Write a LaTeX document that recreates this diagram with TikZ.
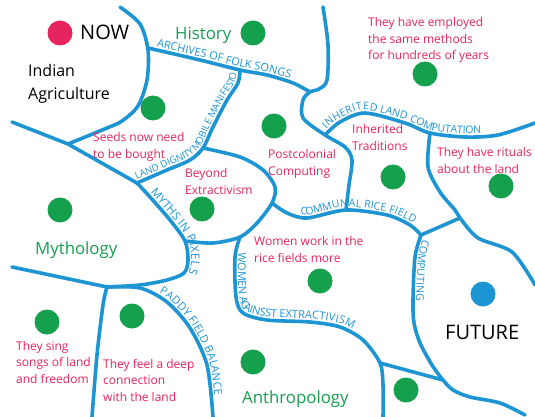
\documentclass[tikz,border=0pt]{standalone}
\usepackage{fontspec}
\setmainfont{Open Sans}
\usetikzlibrary{decorations.text}
\definecolor{lineblue}{HTML}{1E95D3}
\definecolor{dotgreen}{HTML}{15A04E}
\definecolor{notepink}{HTML}{E6245E}

\begin{document}
\begin{tikzpicture}[x=1pt,y=-1pt,
  fieldline/.style={draw=lineblue,line width=3.6pt,line cap=round,line join=round},
  roadname/.style n args={3}{postaction={decorate,decoration={text along path,
      text={|\fontsize{#3}{#3}\selectfont|#1},text color=lineblue,raise=3.2pt,text align={left indent=#2}}}},
  note/.style={anchor=base west,inner sep=0pt,align=left,text=notepink,font=\fontsize{12}{16.5}\selectfont},
  topic/.style={anchor=base west,inner sep=0pt,text=dotgreen,font=\fontsize{16.8}{20}\selectfont},
  bigword/.style={anchor=base west,inner sep=0pt,font=\fontsize{20}{24}\selectfont},
  placename/.style={anchor=base west,inner sep=0pt,align=left,font=\fontsize{16}{23}\selectfont}]
\useasboundingbox (0,0) rectangle (535,417);
\fill[white] (0,0) rectangle (535,417);
% junctions
\coordinate (jwest)  at (68,144);
\coordinate (jmyth)  at (137,183);
\coordinate (jarch)  at (148,48);
\coordinate (jland)  at (240,70);
\coordinate (jtop)   at (310,92);
\coordinate (jinh)   at (325,135);
\coordinate (jrit)   at (430,133);
\coordinate (jbey)   at (203,148);
\coordinate (jcom)   at (272,203);
\coordinate (jmid)   at (346,210);
\coordinate (jfut)   at (421,235);
\coordinate (jfork)  at (460,218);
\coordinate (jwom)   at (240,237);
\coordinate (jpix)   at (185,241);
\coordinate (jsouth) at (107,287);
\coordinate (janth)  at (380,363);
\coordinate (jend)   at (443,380);
% borders
\draw[fieldline] plot[smooth] coordinates {(120,7) (140,24) (148,50) (147,80) (138,106) (122,121) (107,128) (jwest)};
\draw[fieldline] (12,122) -- (jwest) -- (jmyth);
\draw[fieldline] plot[smooth] coordinates {(323,7) (328,45) (327,80) (319,89) (jtop) (303,100) (303,118) (jinh) (345,147) (352,160) (349,185) (jmid)};
\draw[fieldline] plot[smooth] coordinates {(jbey) (240,157) (263,170) (275,187) (jcom) (257,223) (jwom) (213,243) (jpix)};
\draw[fieldline] plot[smooth] coordinates {(jrit) (428,167) (440,192) (455,210) (jfork) (478,238) (512,252) (535,285)};
\draw[fieldline] (jfut) -- (jfork);
\draw[fieldline] (janth) -- (jend);
\draw[fieldline] (12,267) -- (jsouth);
\draw[fieldline] plot[smooth] coordinates {(jsouth) (103,305) (97,355) (92,417)};
\draw[fieldline] plot[smooth] coordinates {(jcom) (287,213) (307,218) (jmid) (387,215) (410,225) (jfut)};
% named borders
\draw[fieldline,roadname={ARCHIVES OF FOLK SONGS}{8pt}{11}]
  plot[smooth] coordinates {(jarch) (200,60) (jland) (267,75) (293,83) (jtop)};
\draw[fieldline,roadname={LAND DIGNITY MOBILE MANIFESTO}{1pt}{9.6}]
  plot[smooth] coordinates {(jmyth) (167,170) (190,160) (jbey) (213,127) (227,100) (238,83) (jland)};
\draw[fieldline,roadname={INHERITED LAND COMPUTATION}{5pt}{10.5}]
  plot[smooth] coordinates {(jinh) (340,122) (365,113) (405,123) (jrit) (465,137) (498,135) (535,123)};
\path[roadname={COMMUNAL RICE FIELD}{32pt}{10.5}]
  plot[smooth] coordinates {(jcom) (287,213) (307,218) (jmid) (387,215) (410,225) (jfut) (432,250) (440,270)};
\draw[fieldline,roadname={COMPUTING}{4pt}{10.5}]
  plot[smooth] coordinates {(jfut) (415,257) (413,300) (414,323) (420,343) (432,365) (jend) (453,390) (470,397) (500,403) (525,415)};
\draw[fieldline,roadname={MYTHS IN PIXELS}{16pt}{11.5}]
  plot[smooth] coordinates {(jmyth) (150,197) (170,220) (jpix) (188,260) (184,273) (167,280) (140,285) (jsouth)};
\draw[fieldline,roadname={WOMEN AGAINSST EXTRACTIVISM}{16pt}{11}]
  plot[smooth] coordinates {(jwom) (235,257) (236,297) (243,313) (267,320) (310,322) (340,327) (363,340) (janth) (383,385) (383,417)};
\draw[fieldline,roadname={PADDY FIELD BALANCE}{52pt}{11}]
  plot[smooth] coordinates {(jsouth) (140,288) (167,302) (190,328) (207,365) (213,417)};
% dots
\fill[notepink] (60,33) circle (12.5);
\fill[lineblue] (483,294) circle (12.5);
\foreach \p in {(253,33),(153,108),(274,126),(425,74),(393,177),(501,186),(202,209),
  (60,210),(47,322),(132,316),(320,281),(253,362),(406,390)}
  \fill[dotgreen] \p circle (12.5);
% labels
\node[bigword] (now) at (80,40) {NOW};
\node[bigword] (future) at (445,339) {FUTURE};
\node[topic] (history) at (175,40) {History};
\node[topic] (myth) at (35,254) {Mythology};
\node[topic] (anthro) at (242,403) {Anthropology};
\node[placename] (india) at (28,100) {Indian\\Agriculture};
\node[note] (seeds) at (93,158) {Seeds now need\\to be bought};
\node[note] (beyond) at (185,194) {Beyond\\Extractivism};
\node[note] (postcol) at (268,175) {Postcolonial\\Computing};
\node[note] (inherit) at (352,150) {Inherited\\Traditions};
\node[note] (rituals) at (437,173) {They have rituals\\about the land};
\node[note] (methods) at (368,60) {They have employed\\the same methods\\for hundreds of years};
\node[note] (sing) at (16,383) {They sing\\songs of land\\and freedom};
\node[note] (feel) at (103,401) {They feel a deep\\connection\\with the land};
\node[note] (women) at (254,262) {Women work in the\\rice fields more};
\end{tikzpicture}
\end{document}
